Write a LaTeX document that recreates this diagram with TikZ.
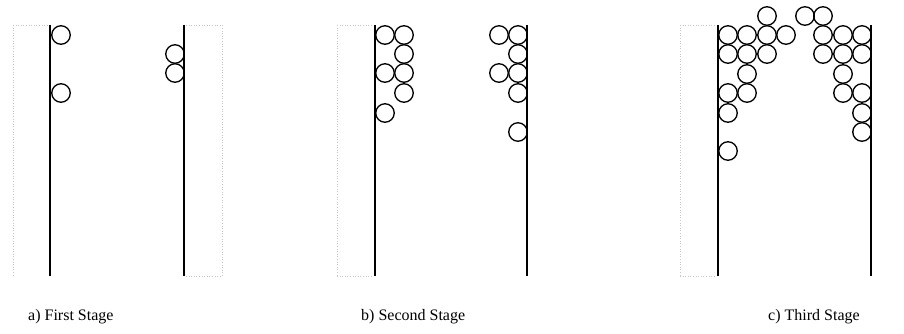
\documentclass[tikz,border=0pt]{standalone}
\usepackage{fontspec}
\setmainfont{Liberation Serif}
\begin{document}
\begin{tikzpicture}[x=1pt,y=-1pt,
  ball/.style={draw=black,line width=1.35pt,circle,inner sep=0pt,minimum size=18.5pt},
  wall/.style={draw=black,line width=1.6pt},
  faint/.style={draw=black!22,dotted,line width=0.6pt},
  lbl/.style={font=\fontsize{16}{19}\selectfont,anchor=west,inner sep=0pt}]
\useasboundingbox (0,0) rectangle (904,334);
% faint frame traces
\draw[faint] (13,25) -- (13,276) (13,25) -- (48,25);
\draw[faint] (186,25) -- (222,25) -- (222,276) (186,276) -- (222,276);
\draw[faint] (337,25) -- (337,276) (337,25) -- (373,25) (337,276) -- (373,276);
\draw[faint] (680,25) -- (680,276) (680,25) -- (716,25) (680,276) -- (716,276);
% walls
\coordinate (a1t) at (50,25); \coordinate (a1b) at (50,276);
\coordinate (a2t) at (184,25); \coordinate (a2b) at (184,276);
\coordinate (b1t) at (375,25); \coordinate (b1b) at (375,276);
\coordinate (b2t) at (527,25); \coordinate (b2b) at (527,276);
\coordinate (c1t) at (718,25); \coordinate (c1b) at (718,276);
\coordinate (c2t) at (871,25); \coordinate (c2b) at (871,276);
\draw[wall] (a1t) -- (a1b); \draw[wall] (a2t) -- (a2b);
\draw[wall] (b1t) -- (b1b); \draw[wall] (b2t) -- (b2b);
\draw[wall] (c1t) -- (c1b); \draw[wall] (c2t) -- (c2b);
% stage a
\foreach \x/\y [count=\i] in {61/35, 61/93, 175/54, 175/73}
  \node[ball] (a\i) at (\x,\y) {};
% stage b
\foreach \x/\y [count=\i] in {385/35, 404/35, 404/54, 385/73, 404/73, 404/93, 385/113,
  499/35, 518/35, 518/54, 499/73, 518/73, 518/93, 518/132}
  \node[ball] (b\i) at (\x,\y) {};
% stage c
\foreach \x/\y [count=\i] in {728/35, 747/35, 767/35, 786/35, 823/35, 843/35, 862/35,
  728/54, 747/54, 767/54, 823/54, 843/54, 862/54,
  747/74, 843/74,
  728/93, 747/93, 843/93, 862/93,
  728/113, 862/113, 862/132, 728/151,
  767/16, 805/16, 823/16}
  \node[ball] (c\i) at (\x,\y) {};
% labels
\node[lbl] (la) at (28,317) {a) First Stage};
\node[lbl] (lb) at (361,317) {b) Second Stage};
\node[lbl] (lc) at (768,317) {c) Third Stage};
\end{tikzpicture}
\end{document}
